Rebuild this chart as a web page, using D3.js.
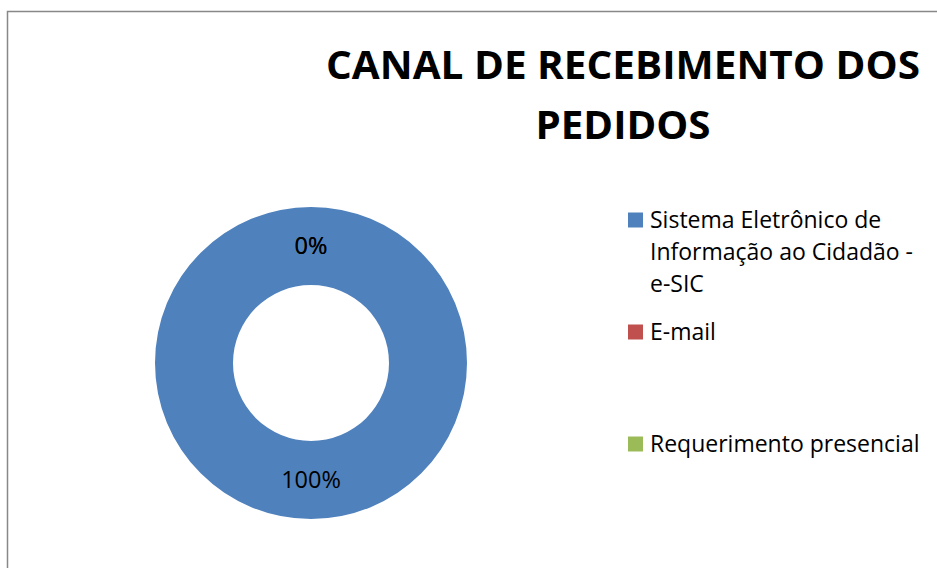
<!DOCTYPE html>
<html>
<head>
<meta charset="utf-8">
<script src="https://cdn.jsdelivr.net/npm/d3@7/dist/d3.min.js"></script>
<style>
  html, body { margin: 0; padding: 0; background: #fff; }
  svg { display: block; font-family: "Open Sans", sans-serif; }
</style>
</head>
<body>
<div id="chart"></div>
<script>
// chart data
var titleLines = ["CANAL DE RECEBIMENTO DOS", "PEDIDOS"];
var categories = [
  "Sistema Eletrônico de Informação ao Cidadão - e-SIC",
  "E-mail",
  "Requerimento presencial"
];
var values = [100, 0, 0];
var colors = ["#4F81BD", "#C0504D", "#9BBB59"];

var width = 937, height = 568;

var svg = d3.select("#chart").append("svg")
  .attr("width", width)
  .attr("height", height);

// chart area border (right / bottom run off the picture)
svg.append("rect")
  .attr("x", 7.5).attr("y", 11.5)
  .attr("width", 1000).attr("height", 1000)
  .attr("fill", "#fff")
  .attr("stroke", "#888")
  .attr("stroke-width", 1.5);

// title
var title = svg.append("g").attr("class", "title");
title.selectAll("text")
  .data(titleLines)
  .enter().append("text")
    .attr("x", 623)
    .attr("y", function(d, i) { return 79 + i * 60; })
    .attr("text-anchor", "middle")
    .attr("font-weight", "bold")
    .attr("font-size", 40)
    .attr("fill", "#000")
    .text(function(d) { return d; });
// stretch to the width of the original face
title.selectAll("text").each(function(d, i) {
  var target = i === 0 ? 594 : 175;
  d3.select(this).attr("textLength", target).attr("lengthAdjust", "spacingAndGlyphs");
});

// donut
var cx = 311, cy = 363;
var outerR = 156, innerR = 78;

var pie = d3.pie().sort(null).value(function(d) { return d; });
var arcs = pie(values);

var arc = d3.arc().innerRadius(innerR).outerRadius(outerR);
var labelArc = d3.arc().innerRadius((innerR + outerR) / 2).outerRadius((innerR + outerR) / 2);

var total = d3.sum(values);
var pct = d3.format(".0%");

var g = svg.append("g").attr("transform", "translate(" + cx + "," + cy + ")");
g.selectAll("path")
  .data(arcs)
  .enter().append("path")
    .attr("d", arc)
    .attr("fill", function(d, i) { return colors[i]; });

g.selectAll("text")
  .data(arcs)
  .enter().append("text")
    .attr("transform", function(d) { return "translate(" + labelArc.centroid(d) + ")"; })
    .attr("text-anchor", "middle")
    .attr("dy", "0.35em")
    .attr("font-size", 23.5)
    .attr("fill", "#000")
    .text(function(d) { return pct(d.value / total); });

// legend
var ly = d3.scalePoint().domain(categories).range([220, 444]);
var legend = svg.append("g").attr("class", "legend");
var item = legend.selectAll("g")
  .data(categories)
  .enter().append("g")
    .attr("transform", function(d) { return "translate(628," + ly(d) + ")"; });

item.append("rect")
  .attr("x", 0).attr("y", -7.5)
  .attr("width", 15).attr("height", 15)
  .attr("fill", function(d, i) { return colors[i]; });

item.append("text")
  .attr("x", 22)
  .attr("y", 7.5)
  .attr("font-size", 23)
  .attr("fill", "#000")
  .each(function(d) {
    // wrap text to the legend width
    var el = d3.select(this), words = d.split(" "), line = [];
    var tspan = el.append("tspan").attr("x", 22).attr("dy", 0);
    words.forEach(function(w) {
      line.push(w);
      tspan.text(line.join(" "));
      if (tspan.node().getComputedTextLength() > 285 && line.length > 1) {
        line.pop();
        tspan.text(line.join(" "));
        line = [w];
        tspan = el.append("tspan").attr("x", 22).attr("dy", 32).text(w);
      }
    });
  });
</script>
</body>
</html>
